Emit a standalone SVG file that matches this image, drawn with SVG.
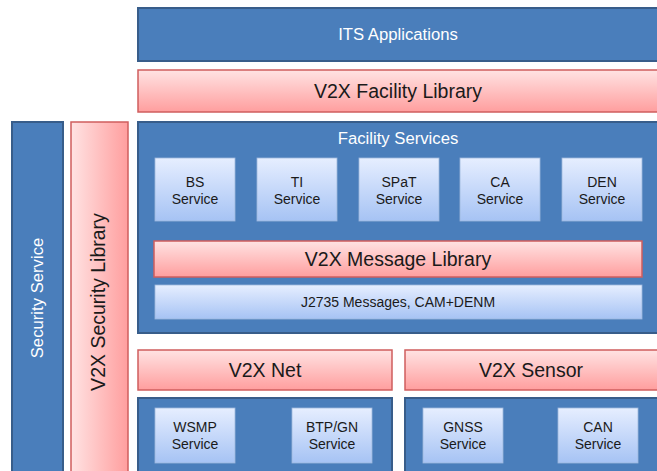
<svg xmlns="http://www.w3.org/2000/svg" width="657" height="471" viewBox="0 0 657 471">
<defs>
<linearGradient id="pink" x1="0" y1="0" x2="0" y2="1"><stop offset="0" stop-color="#ffe3e3"/><stop offset="1" stop-color="#ff9e9e"/></linearGradient>
<linearGradient id="pinkH" x1="0" y1="0" x2="1" y2="0"><stop offset="0" stop-color="#ffe3e3"/><stop offset="1" stop-color="#ff9e9e"/></linearGradient>
<linearGradient id="lb" x1="0" y1="0" x2="0" y2="1"><stop offset="0" stop-color="#e6eeff"/><stop offset="1" stop-color="#a6c3f4"/></linearGradient>
</defs>
<style>
.blue{fill:#4a7ebb;stroke:#385d8a;stroke-width:2}
.pink{fill:url(#pink);stroke:#cf5e5e;stroke-width:1.5}
.pinkH{fill:url(#pinkH);stroke:#cf5e5e;stroke-width:1.5}
.svc{fill:url(#lb);stroke:#9fb8dd;stroke-width:0.8}
.wt{font-family:"Liberation Sans",Arial,sans-serif;fill:#ffffff;text-anchor:middle}
.bt{font-family:"Liberation Sans",Arial,sans-serif;fill:#1a1a1a;text-anchor:middle}
.big{font-size:19.5px}
.mid{font-size:16.7px}
.sm{font-size:14px}
</style>
<g id="its-applications"><rect class="blue" x="138" y="8" width="525" height="53"/><text class="wt mid" x="398" y="40">ITS Applications</text></g>
<g id="v2x-facility-library"><rect class="pink" x="138" y="70" width="525" height="42"/><text class="bt big" x="398" y="98">V2X Facility Library</text></g>
<g id="security-service"><rect class="blue" x="12" y="122" width="51" height="360"/><text class="wt mid" transform="translate(43,298) rotate(-90)">Security Service</text></g>
<g id="v2x-security-library"><rect class="pinkH" x="71" y="122" width="57" height="360"/><text class="bt big" transform="translate(105,302) rotate(-90)">V2X Security Library</text></g>
<g id="facility-services"><rect class="blue" x="138" y="122" width="525" height="211"/><text class="wt mid" x="398" y="144">Facility Services</text></g>
<g id="bs-service"><rect class="svc" x="155" y="158" width="80" height="63"/><text class="bt sm" x="195" y="187">BS</text><text class="bt sm" x="195" y="204">Service</text></g>
<g id="ti-service"><rect class="svc" x="257" y="158" width="80" height="63"/><text class="bt sm" x="297" y="187">TI</text><text class="bt sm" x="297" y="204">Service</text></g>
<g id="spat-service"><rect class="svc" x="359" y="158" width="80" height="63"/><text class="bt sm" x="399" y="187">SPaT</text><text class="bt sm" x="399" y="204">Service</text></g>
<g id="ca-service"><rect class="svc" x="460" y="158" width="80" height="63"/><text class="bt sm" x="500" y="187">CA</text><text class="bt sm" x="500" y="204">Service</text></g>
<g id="den-service"><rect class="svc" x="562" y="158" width="80" height="63"/><text class="bt sm" x="602" y="187">DEN</text><text class="bt sm" x="602" y="204">Service</text></g>
<g id="v2x-message-library"><rect class="pink" x="154" y="241" width="488" height="36"/><text class="bt big" x="398" y="266">V2X Message Library</text></g>
<g id="j2735"><rect class="svc" x="155" y="285" width="487" height="34"/><text class="bt sm" x="398" y="307">J2735 Messages, CAM+DENM</text></g>
<g id="v2x-net"><rect class="pink" x="138" y="350" width="254" height="40"/><text class="bt big" x="265" y="377">V2X Net</text></g>
<g id="v2x-sensor"><rect class="pink" x="405" y="350" width="258" height="40"/><text class="bt big" x="531" y="377">V2X Sensor</text></g>
<g id="net-services"><rect class="blue" x="138" y="398" width="254" height="90"/></g>
<g id="sensor-services"><rect class="blue" x="405" y="398" width="258" height="90"/></g>
<g id="wsmp-service"><rect class="svc" x="155" y="408" width="80" height="55"/><text class="bt sm" x="195" y="432">WSMP</text><text class="bt sm" x="195" y="449">Service</text></g>
<g id="btp-gn-service"><rect class="svc" x="292" y="408" width="80" height="55"/><text class="bt sm" x="332" y="432">BTP/GN</text><text class="bt sm" x="332" y="449">Service</text></g>
<g id="gnss-service"><rect class="svc" x="423" y="408" width="80" height="55"/><text class="bt sm" x="463" y="432">GNSS</text><text class="bt sm" x="463" y="449">Service</text></g>
<g id="can-service"><rect class="svc" x="558" y="408" width="80" height="55"/><text class="bt sm" x="598" y="432">CAN</text><text class="bt sm" x="598" y="449">Service</text></g>
<g id="connectors"></g>
</svg>
